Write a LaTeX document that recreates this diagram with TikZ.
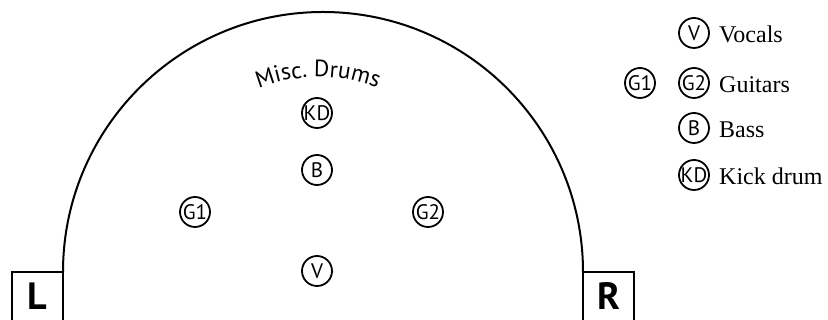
\documentclass[tikz,border=0pt]{standalone}
\usepackage{fontspec}
\setmainfont{Liberation Serif}
\newfontfamily\stagefont{PT Sans}
\usetikzlibrary{decorations.text}

\begin{document}
\begin{tikzpicture}[
    x=1pt, y=1pt,
    player/.style={circle, draw=black, line width=1.8pt, inner sep=0pt, minimum size=30pt,
        font=\stagefont\fontsize{21}{21}\selectfont,
        execute at begin node={\hbox to 0pt\bgroup\hss}, execute at end node={\hss\egroup}},
    sidebox/.style={rectangle, draw=black, line width=2pt, outer sep=0pt, minimum width=51pt, minimum height=70pt, anchor=north west},
    sidelabel/.style={inner sep=0pt, font=\stagefont\bfseries\fontsize{38}{38}\selectfont},
    legend/.style={anchor=base west, inner sep=0pt, font=\fontsize{24}{28}\selectfont},
    stage/.style={draw=black, line width=2pt}
]
\useasboundingbox (0,0) rectangle (828,320);

\node[sidebox] (Lbox) at (12,48) {};
\node[sidebox] (Rbox) at (583,48) {};
\node[sidelabel] (L) at (37.5,24) {L};
\node[sidelabel] (R) at (608.5,24) {R};
\draw[stage] (Lbox.north east) arc[start angle=180, end angle=0, radius=260];

\coordinate (drumarc) at (318,84);
\path[decorate, decoration={text along path, text align=center,
    text={|\stagefont\fontsize{23.5}{23.5}\selectfont|Misc. Drums}}]
    ([shift={(150:159)}]drumarc) arc[start angle=150, end angle=30, radius=159];

\node[player] (kd) at (317,207) {KD};
\node[player] (b) at (317,150) {B};
\node[player] (g1) at (195,108) {G1};
\node[player] (g2) at (428,108) {G2};
\node[player] (v) at (317,49) {V};

\node[player] (keyv) at (694,287) {V};
\node[player] (keyga) at (640,237) {G1};
\node[player] (keygb) at (694,237) {G2};
\node[player] (keyb) at (694,192) {B};
\node[player] (keykd) at (694,145) {KD};
\node[legend] (vocals) at (719,277.5) {Vocals};
\node[legend] (guitars) at (719,227.5) {Guitars};
\node[legend] (bass) at (719,182.5) {Bass};
\node[legend] (kick) at (719,135.5) {Kick drum};

\end{tikzpicture}
\end{document}
